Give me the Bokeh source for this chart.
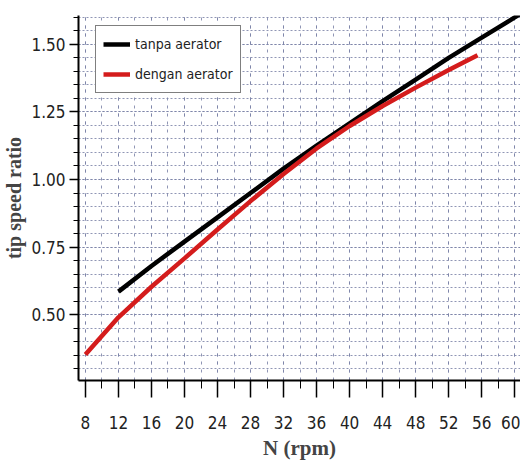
from bokeh.plotting import figure
from bokeh.models import SingleIntervalTicker, PrintfTickFormatter, Range1d, Legend, LegendItem
from bokeh.embed import file_html
from bokeh.resources import INLINE

# data
n_tanpa = [12, 16, 20, 24, 28, 32, 36, 40, 44, 48, 52, 56, 60, 60.7]
tsr_tanpa = [0.585, 0.680, 0.770, 0.860, 0.950, 1.040, 1.125, 1.208, 1.290, 1.370, 1.450, 1.525, 1.600, 1.613]
n_dengan = [8, 12, 16, 20, 24, 28, 32, 36, 40, 44, 48, 52, 55.5]
tsr_dengan = [0.352, 0.490, 0.603, 0.708, 0.815, 0.920, 1.020, 1.115, 1.198, 1.272, 1.340, 1.405, 1.460]
legend_labels = ["tanpa aerator", "dengan aerator"]
x_title = "N (rpm)"
y_title = "tip speed ratio"

p = figure(width=520, height=463, output_backend="svg", toolbar_location=None,
           x_range=Range1d(7.16, 60.7), y_range=Range1d(0.256, 1.607),
           min_border_left=75, min_border_right=0, min_border_top=15, min_border_bottom=83)
p.outline_line_color = None
p.background_fill_color = "white"

r1 = p.line(n_tanpa, tsr_tanpa, line_color="black", line_width=4.5)
r2 = p.line(n_dengan, tsr_dengan, line_color="#d41c1c", line_width=4.5)

narrow = "DejaVu Sans Condensed"
serif = "Liberation Serif"

xa = p.xaxis[0]
xa.ticker = SingleIntervalTicker(interval=4, num_minor_ticks=2)
xa.major_label_text_font = narrow
xa.major_label_text_font_size = "17px"
xa.major_label_text_color = "#222222"
xa.major_tick_out = 17
xa.major_tick_in = 0
xa.minor_tick_out = 8
xa.minor_tick_in = 0
xa.major_label_standoff = 18
xa.axis_line_width = 2
xa.major_tick_line_width = 1.5
xa.axis_label = x_title
xa.axis_label_text_font = serif
xa.axis_label_text_font_style = "bold"
xa.axis_label_text_font_size = "21px"
xa.axis_label_standoff = 4

ya = p.yaxis[0]
ya.ticker = SingleIntervalTicker(interval=0.25, num_minor_ticks=5)
ya.formatter = PrintfTickFormatter(format="%.2f")
ya.major_label_text_font = narrow
ya.major_label_text_font_size = "17px"
ya.major_label_text_color = "#222222"
ya.major_tick_out = 9
ya.major_tick_in = 0
ya.minor_tick_out = 5
ya.minor_tick_in = 0
ya.major_label_standoff = 4
ya.axis_line_width = 2
ya.major_tick_line_width = 1.5
ya.axis_label = y_title
ya.axis_label_text_font = serif
ya.axis_label_text_font_style = "bold"
ya.axis_label_text_font_size = "20px"
ya.axis_label_standoff = 3

xg = p.xgrid[0]
yg = p.ygrid[0]
for g in (xg, yg):
    g.grid_line_color = "#7c84a8"
    g.minor_grid_line_color = "#7c84a8"
    g.grid_line_width = 1
    g.minor_grid_line_width = 1
    g.grid_line_alpha = 0.85
    g.minor_grid_line_alpha = 0.85
xg.grid_line_dash = "3 5"
xg.minor_grid_line_dash = "3 5"
yg.grid_line_dash = "2 2"
yg.minor_grid_line_dash = "2 2"

legend = Legend(items=[LegendItem(label=legend_labels[0], renderers=[r1]),
                       LegendItem(label=legend_labels[1], renderers=[r2])],
                location=(17, 287))
legend.label_text_font = narrow
legend.label_text_font_size = "14px"
legend.label_text_color = "#222222"
legend.border_line_color = "black"
legend.border_line_width = 1.5
legend.glyph_width = 27
legend.glyph_height = 22
legend.label_height = 22
legend.spacing = 8
legend.padding = 7
legend.margin = 0
legend.label_standoff = 5
legend.background_fill_alpha = 1
p.add_layout(legend, "center")

open("out.html", "w").write(file_html(p, INLINE))
